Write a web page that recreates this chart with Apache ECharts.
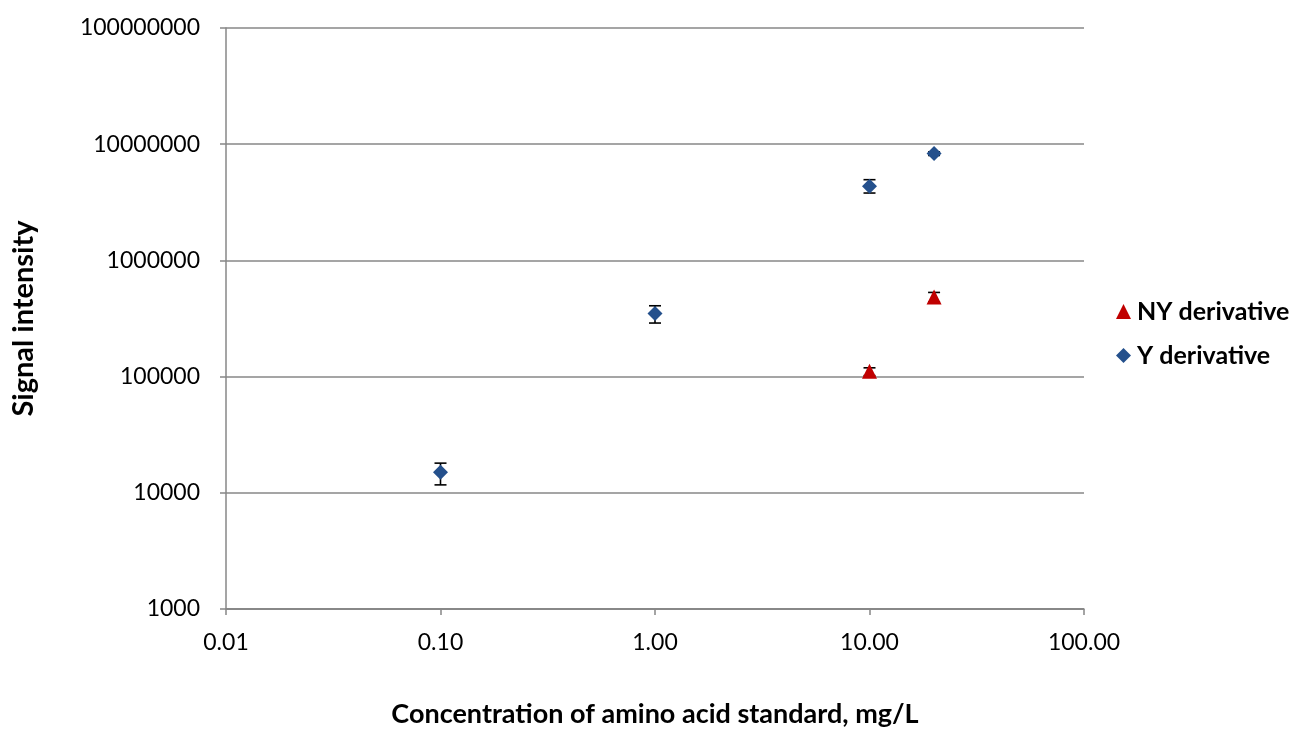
<!DOCTYPE html>
<html>
<head>
<meta charset="utf-8">
<title>Signal intensity vs concentration</title>
<script src="https://cdn.jsdelivr.net/npm/echarts@6/dist/echarts.min.js"></script>
<style>
  html, body { margin: 0; padding: 0; background: #ffffff; }
  #chart { width: 1301px; height: 730px; }
</style>
</head>
<body>
<div id="chart"></div>
<script>
// Y derivative: concentration (mg/L), mean signal, error-bar bounds
const concY = [0.1, 1, 10, 20];
const signalY = [15000, 350000, 4340000, 8300000];
const lowY = [11700, 289000, 3800000, 8000000];
const highY = [18000, 407000, 4950000, 8600000];

// NY derivative
const concNY = [10, 20];
const signalNY = [111000, 485000];
const lowNY = [102000, 440000];
const highNY = [119000, 530000];

const xTickLabels = ['0.01', '0.10', '1.00', '10.00', '100.00'];
const yTickLabels = ['1000', '10000', '100000', '1000000', '10000000', '100000000'];

const seriesNames = ['NY derivative', 'Y derivative'];
const colorNY = '#C00000';
const colorY = '#24508C';
const gridColor = '#878787';
const font = 'Lato, "Open Sans", sans-serif';

function points(xs, ys) {
  return xs.map((x, i) => [x, ys[i]]);
}
function bars(xs, lo, hi) {
  return xs.map((x, i) => [x, lo[i], hi[i]]);
}

// Vertical error bar with short caps
function renderErrorBar(params, api) {
  const x = api.value(0);
  const top = api.coord([x, api.value(2)]);
  const bot = api.coord([x, api.value(1)]);
  const half = 6;
  const style = { stroke: '#000000', lineWidth: 1.6 };
  return {
    type: 'group',
    children: [
      { type: 'line', shape: { x1: top[0], y1: top[1], x2: bot[0], y2: bot[1] }, style },
      { type: 'line', shape: { x1: top[0] - half, y1: top[1], x2: top[0] + half, y2: top[1] }, style },
      { type: 'line', shape: { x1: bot[0] - half, y1: bot[1], x2: bot[0] + half, y2: bot[1] }, style }
    ]
  };
}

const chart = echarts.init(document.getElementById('chart'), null, { renderer: 'canvas' });

chart.setOption({
  backgroundColor: '#ffffff',
  animation: false,
  grid: { left: 226, right: 217, top: 28, bottom: 121, containLabel: false, outerBoundsMode: 'none' },
  legend: {
    data: seriesNames,
    orient: 'vertical',
    left: 1111,
    top: 294,
    itemWidth: 15,
    itemHeight: 15,
    itemGap: 19,
    textStyle: { fontFamily: font, fontWeight: 'bold', fontSize: 25, color: '#000000', padding: [0, 0, 0, 1] }
  },
  xAxis: {
    type: 'log',
    logBase: 10,
    min: 0.01,
    max: 100,
    name: 'Concentration of amino acid standard, mg/L',
    nameLocation: 'middle',
    nameGap: 92,
    nameTextStyle: { fontFamily: font, fontWeight: 'bold', fontSize: 27, color: '#000000' },
    axisLine: { show: true, lineStyle: { color: gridColor, width: 1.5 } },
    axisTick: { show: true, inside: false, length: 6, lineStyle: { color: gridColor, width: 1.5 } },
    splitLine: { show: false },
    axisLabel: {
      fontFamily: font, fontSize: 23, color: '#000000', margin: 22,
      formatter: function (v) {
        const e = Math.round(Math.log10(v));
        return xTickLabels[e + 2];
      }
    }
  },
  yAxis: {
    type: 'log',
    logBase: 10,
    min: 1000,
    max: 100000000,
    name: 'Signal intensity',
    nameLocation: 'middle',
    nameGap: 188,
    nameTextStyle: { fontFamily: font, fontWeight: 'bold', fontSize: 29, color: '#000000' },
    axisLine: { show: true, lineStyle: { color: gridColor, width: 1.5 } },
    axisTick: { show: true, inside: false, length: 6, lineStyle: { color: gridColor, width: 1.5 } },
    splitLine: { show: true, lineStyle: { color: gridColor, width: 1.5 } },
    axisLabel: {
      fontFamily: font, fontSize: 23, color: '#000000', margin: 26,
      formatter: function (v) {
        const e = Math.round(Math.log10(v));
        return yTickLabels[e - 3];
      }
    }
  },
  series: [
    {
      name: 'NY error',
      type: 'custom',
      renderItem: renderErrorBar,
      data: bars(concNY, lowNY, highNY),
      encode: { x: 0, y: [1, 2] },
      z: 2,
      silent: true
    },
    {
      name: 'Y error',
      type: 'custom',
      renderItem: renderErrorBar,
      data: bars(concY, lowY, highY),
      encode: { x: 0, y: [1, 2] },
      z: 2,
      silent: true
    },
    {
      name: seriesNames[0],
      type: 'scatter',
      symbol: 'triangle',
      symbolSize: [15, 15],
      itemStyle: { color: colorNY, opacity: 1 },
      data: points(concNY, signalNY),
      z: 3
    },
    {
      name: seriesNames[1],
      type: 'scatter',
      symbol: 'diamond',
      symbolSize: [15, 15],
      itemStyle: { color: colorY, opacity: 1 },
      data: points(concY, signalY),
      z: 3
    }
  ]
});
</script>
</body>
</html>
